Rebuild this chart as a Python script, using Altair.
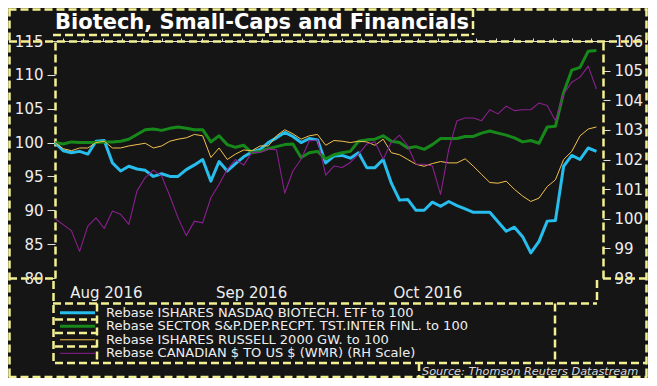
import altair as alt
import pandas as pd

FONT = "DejaVu Sans"
YEL = "#f3ef93"
TXT = "#eeeeee"

title_text = "Biotech, Small-Caps and Financials"
source_text = "Source: Thomson Reuters Datastream"

series_names = [
    "Rebase ISHARES NASDAQ BIOTECH. ETF to 100",
    "Rebase SECTOR S&P.DEP.RECPT. TST.INTER FINL. to 100",
    "Rebase ISHARES RUSSELL 2000 GW. to 100",
    "Rebase CANADIAN $ TO US $ (WMR) (RH Scale)",
]
series_colors = ["#27bdec", "#17881a", "#f2c14e", "#8b1f8f"]
series_widths = [3, 2.8, 1, 1.1]

# daily (weekday) observations, mid-Aug 2016 .. mid-Nov 2016
biotech = [100.0, 98.8, 98.5, 98.7, 98.3, 100.2, 100.3, 97.0, 95.8, 96.5,
           96.1, 95.9, 95.0, 95.4, 95.0, 95.0, 96.0, 96.7, 97.5, 94.3,
           97.2, 95.8, 96.9, 97.9, 98.6, 99.0, 100.0, 100.7, 101.5, 100.9,
           100.0, 100.6, 100.4, 97.0, 98.0, 98.1, 97.7, 98.5, 96.3, 96.3,
           97.5, 94.0, 91.5, 91.6, 90.0, 90.0, 91.2, 90.6, 91.3, 90.7,
           90.2, 89.7, 89.7, 89.7, 88.3, 86.9, 87.5, 86.1, 83.7, 85.4,
           88.4, 88.5, 96.5, 98.1, 97.5, 99.2, 98.7]
financials = [100.0, 99.8, 100.1, 100.0, 100.0, 100.0, 100.1, 100.1, 100.2, 100.5,
              101.2, 101.9, 102.0, 101.8, 102.1, 102.3, 102.1, 101.9, 101.9, 100.1,
              101.0, 99.7, 99.3, 99.6, 98.5, 98.7, 99.1, 99.4, 99.7, 99.8,
              97.8, 98.5, 98.7, 97.6, 98.2, 98.5, 98.7, 100.2, 100.4, 100.5,
              101.0, 100.2, 100.0, 99.2, 99.4, 99.0, 99.7, 100.6, 100.6, 100.6,
              100.9, 100.9, 101.4, 101.7, 101.4, 101.1, 100.7, 100.1, 100.3, 99.9,
              102.3, 102.4, 107.4, 110.7, 111.1, 113.5, 113.6]
russell = [100.0, 99.1, 98.8, 99.2, 99.2, 100.0, 100.2, 99.2, 99.2, 99.5,
           99.7, 99.9, 99.2, 99.5, 100.2, 100.5, 100.7, 101.2, 101.0, 97.8,
           99.2, 97.5, 98.3, 98.9, 98.8, 99.5, 99.5, 101.0, 101.9, 101.3,
           100.5, 101.0, 101.2, 99.6, 100.3, 100.2, 100.0, 100.2, 100.1, 99.6,
           100.5, 98.5, 98.2, 97.5, 96.8, 96.5, 96.9, 97.2, 97.0, 97.0,
           97.6, 96.5, 95.3, 94.1, 94.0, 94.3, 93.1, 92.1, 91.3, 91.8,
           93.5, 94.5, 97.5, 98.7, 101.0, 102.0, 102.3]
cad = [100.0, 99.8, 99.6, 98.9, 99.75, 100.03, 99.67, 100.26, 100.15, 99.81,
       100.94, 101.39, 101.64, 101.44, 100.77, 100.03, 99.43, 99.92, 99.86, 100.71,
       101.16, 101.67, 102.0, 101.81, 102.24, 102.24, 102.35, 102.33, 100.86, 101.61,
       102.01, 102.63, 102.66, 101.47, 101.78, 101.73, 101.9, 102.18, 102.52, 102.6,
       102.01, 102.58, 102.82, 102.45, 101.84, 101.84, 101.78, 100.82, 102.35, 103.31,
       103.4, 103.4, 103.31, 103.68, 103.54, 103.8, 103.65, 103.68, 103.68, 103.91,
       103.82, 103.31, 104.21, 104.61, 104.78, 105.15, 104.38]

month_labels = ["Aug 2016", "Sep 2016", "Oct 2016"]
month_label_pos = [6.2, 23.9, 45.4]
month_starts = [13, 35, 56]
minor_ticks = [1.0, 3.4, 5.8, 8.2, 10.6, 15.4, 17.9, 20.3, 22.8, 25.2, 27.7,
               30.1, 32.6, 37.3, 39.7, 42.0, 44.3, 46.7, 49.0, 51.3, 53.7,
               58.3, 60.7, 63.0, 65.3]
left_ticks = [80, 85, 90, 95, 100, 105, 110, 115]
right_ticks = [98, 99, 100, 101, 102, 103, 104, 105, 106]

n = len(biotech)
idx = list(range(n))
left_df = pd.DataFrame({
    "idx": idx * 3,
    "value": biotech + financials + russell,
    "series": [series_names[0]] * n + [series_names[1]] * n + [series_names[2]] * n,
})
right_df = pd.DataFrame({"idx": idx, "value": cad, "series": [series_names[3]] * n})
legend_df = pd.DataFrame({"series": series_names})
one = pd.DataFrame({"k": [0]})

W, H = 548, 237
x_scale = alt.Scale(domain=[0, 66.8], nice=False, zero=False)
color_scale = alt.Scale(domain=series_names, range=series_colors)

label_expr = "[" + ",".join("'%s'" % m for m in month_labels) + "][indexof([" + \
    ",".join(str(p) for p in month_label_pos) + "], datum.value)]"

thick = alt.FieldOneOfPredicate(field="series", oneOf=[series_names[0], series_names[1]])
line_width = alt.condition(thick, alt.value(series_widths[0]), alt.value(series_widths[2]))

left = alt.Chart(left_df).mark_line(strokeJoin="round").encode(
    x=alt.X("idx:Q", scale=x_scale,
            axis=alt.Axis(values=month_label_pos, labelExpr=label_expr, tickSize=0,
                          domain=False, grid=False, title=None, labelFont=FONT,
                          labelFontSize=15, labelColor=TXT, labelPadding=7)),
    y=alt.Y("value:Q", scale=alt.Scale(domain=[80, 115], nice=False, zero=False),
            axis=alt.Axis(orient="left", values=left_ticks, tickSize=8, tickColor="#e0e0e0",
                          domainColor=YEL, domainDash=[8, 4], domainWidth=2.5,
                          grid=False, title=None, labelFont=FONT, labelFontSize=15,
                          labelColor=TXT, labelPadding=4)),
    color=alt.Color("series:N", scale=color_scale, legend=None),
    strokeWidth=line_width,
)

right = alt.Chart(right_df).mark_line(strokeJoin="round", strokeWidth=series_widths[3]).encode(
    x=alt.X("idx:Q", scale=x_scale,
            axis=alt.Axis(values=sorted(month_starts + minor_ticks), labels=False,
                          tickSize=3, tickColor="#e0e0e0", domainColor="#e0e0e0",
                          domainWidth=1, grid=False, title=None)),
    y=alt.Y("value:Q", scale=alt.Scale(domain=[98, 106], nice=False, zero=False),
            axis=alt.Axis(orient="right", values=right_ticks, tickSize=7, tickColor="#e0e0e0",
                          domainColor=YEL, domainDash=[8, 4], domainWidth=2.5,
                          grid=False, title=None, labelFont=FONT, labelFontSize=15,
                          labelColor=TXT, labelPadding=4)),
    color=alt.Color("series:N", scale=color_scale, legend=None),
)

# legend, drawn as its own small layer (rows on a point scale below the plot)
row_scale = alt.Scale(type="point", domain=series_names, range=[271.7, 312.3], padding=0)
leg_sw = alt.Chart(legend_df).mark_rule().encode(
    x=alt.value(5), x2=alt.value(40),
    y=alt.Y("series:N", scale=row_scale, axis=None),
    color=alt.Color("series:N", scale=color_scale, legend=None),
    strokeWidth=line_width,
)
leg_tx = alt.Chart(legend_df).mark_text(align="left", baseline="middle", font=FONT,
                                        fontSize=13, color=TXT).encode(
    x=alt.value(51),
    y=alt.Y("series:N", scale=row_scale, axis=None),
    text="series:N",
)

title = alt.Chart(one).mark_text(text=title_text, align="left", baseline="alphabetic",
                                 font=FONT, fontSize=21, fontWeight="bold",
                                 color="#ffffff").encode(x=alt.value(0), y=alt.value(-12.5))
source = alt.Chart(one).mark_text(text=source_text, align="left", baseline="alphabetic",
                                  font=FONT, fontSize=11.3, fontStyle="italic",
                                  color="#d8d8d8").encode(x=alt.value(367), y=alt.value(334))


def hline(y, x1, x2):
    return alt.Chart(one).mark_rule(color=YEL, strokeWidth=2.5, strokeDash=[8, 4]).encode(
        x=alt.value(x1), x2=alt.value(x2), y=alt.value(y))


def vline(x, y1, y2):
    return alt.Chart(one).mark_rule(color=YEL, strokeWidth=2.5, strokeDash=[8, 4]).encode(
        x=alt.value(x), y=alt.value(y1), y2=alt.value(y2))


deco = [
    hline(-31.5, -46.5, 592.5), hline(336, -46.5, 592.5),
    vline(-45.5, -32.5, 337), vline(591.5, -32.5, 337),
    hline(-6, -2, 418), vline(418, -32, -6),
    hline(0.5, -46, 592),
    hline(237.5, -46, -1), hline(237.5, 548, 592),
    vline(-1.5, 240, 322), vline(542, 239, 262.5),
    hline(262.5, -2, 542),
    vline(500, 262.5, 322), vline(42, 262.5, 322),
    hline(278.5, 0, 42), hline(292, 0, 42), hline(305.5, 0, 42),
    hline(322, 0, 592), vline(364, 322, 336),
]

chart = alt.layer(*deco, left, right, leg_sw, leg_tx, title, source).resolve_scale(
    y="independent").resolve_axis(x="independent").properties(
    width=W, height=H,
    autosize=alt.AutoSizeParams(type="none"),
    padding={"left": 47, "top": 33, "right": 45, "bottom": 100},
).configure(background="#151515").configure_view(strokeWidth=0)

chart.save("out.html", embed_options={"renderer": "svg", "actions": False})
